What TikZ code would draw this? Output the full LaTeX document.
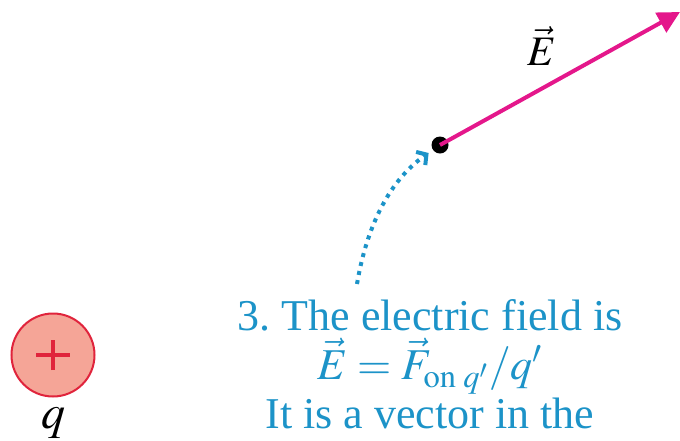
\documentclass[tikz,border=0pt]{standalone}
\usepackage{mathptmx}
\usepackage{fontspec}
\setmainfont{Liberation Serif}
\usetikzlibrary{positioning,arrows.meta}
\definecolor{fieldpink}{HTML}{E4178B}
\definecolor{notecyan}{HTML}{1C93C8}
\definecolor{chargefill}{HTML}{F5A597}
\definecolor{chargered}{HTML}{E0243C}

\begin{document}
\begin{tikzpicture}[
    x=0.5pt, y=-0.5pt,
    charge/.style={circle, draw=chargered, line width=1pt, fill=chargefill, minimum size=41.5pt, inner sep=0pt},
    plus/.style={draw=chargered, line width=2pt},
    probe/.style={circle, fill=black, minimum size=8.5pt, inner sep=0pt},
    fieldarr/.style={-{Triangle[length=11pt, width=11pt]}, line width=2pt, draw=fieldpink},
    hint/.style={-{Straight Barb[length=3.5pt, width=8pt]}, line width=2pt, draw=notecyan, dash pattern=on 2pt off 2.6pt},
    note/.style={text=notecyan, align=center, inner sep=0pt, font=\fontsize{22}{24.5}\selectfont}
]
    \useasboundingbox (0,0) rectangle (680,440);

    % Source charge
    \node[charge] (src) at (53,355) {};
    \draw[plus] ([xshift=-8.3pt]src.center) -- ([xshift=8.3pt]src.center);
    \draw[plus] ([yshift=-7.5pt]src.center) -- ([yshift=7.5pt]src.center);
    \node[below=5pt of src, inner sep=0pt, font=\fontsize{24}{24}\selectfont] (qlab) {$q$};

    % Field point and field vector
    \node[probe] (pt) at (440,145) {};
    \coordinate (tip) at (680,12);
    \draw[fieldarr] (pt.center) -- (tip);
    \node[font=\fontsize{21}{21}\selectfont] (Elab) at (542,46) {$\vec{E}$};

    % Explanation
    \coordinate (hstart) at (357,284);
    \draw[hint, shorten >=2.5pt] (hstart) .. controls (367,225) and (390,180) .. (pt);
    \node[note, anchor=base] (expl) at (430,428)
        {3.\ The electric field is\\ $\vec{E}\mskip4mu{=}\mskip4mu\vec{F}_{\mathrm{on}\;q'}/q'$\\ It is a vector in the};
\end{tikzpicture}
\end{document}
